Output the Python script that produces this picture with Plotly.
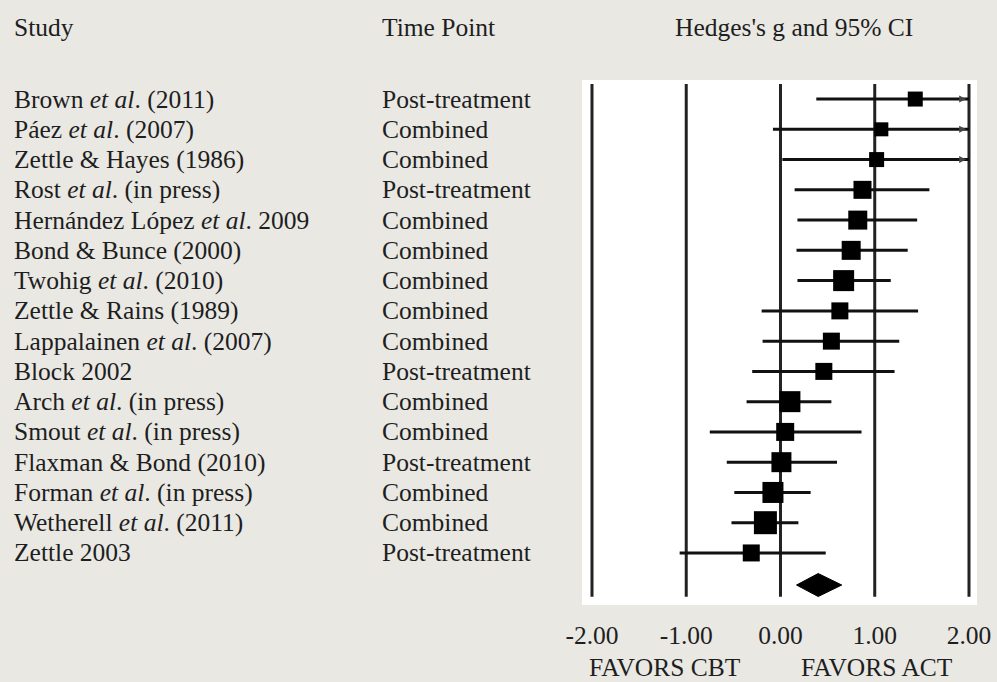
import plotly.graph_objects as go

# ---------------- data ----------------
studies = [
    "Brown <i>et al</i>. (2011)",
    "Páez <i>et al</i>. (2007)",
    "Zettle &amp; Hayes (1986)",
    "Rost <i>et al</i>. (in press)",
    "Hernández López <i>et al</i>. 2009",
    "Bond &amp; Bunce (2000)",
    "Twohig <i>et al</i>. (2010)",
    "Zettle &amp; Rains (1989)",
    "Lappalainen <i>et al</i>. (2007)",
    "Block 2002",
    "Arch <i>et al</i>. (in press)",
    "Smout <i>et al</i>. (in press)",
    "Flaxman &amp; Bond (2010)",
    "Forman <i>et al</i>. (in press)",
    "Wetherell <i>et al</i>. (2011)",
    "Zettle 2003",
]
time_points = [
    "Post-treatment", "Combined", "Combined", "Post-treatment", "Combined",
    "Combined", "Combined", "Combined", "Combined", "Post-treatment",
    "Combined", "Combined", "Post-treatment", "Combined", "Combined",
    "Post-treatment",
]
hedges_g = [1.43, 1.07, 1.02, 0.87, 0.82, 0.75, 0.67, 0.63, 0.54, 0.46,
            0.10, 0.05, 0.01, -0.08, -0.16, -0.31]
ci_lower = [0.38, -0.08, 0.02, 0.15, 0.18, 0.17, 0.18, -0.20, -0.19, -0.30,
            -0.36, -0.75, -0.57, -0.49, -0.52, -1.07]
ci_upper = [2.48, 2.22, 2.05, 1.58, 1.45, 1.35, 1.17, 1.46, 1.26, 1.21,
            0.54, 0.86, 0.60, 0.32, 0.19, 0.48]
weights = [15, 14, 15, 18, 19, 19, 21, 17, 17, 17, 21, 18, 20, 21, 23, 17]
summary_g = 0.40
summary_lower = 0.17
summary_upper = 0.65
tick_values = [-2, -1, 0, 1, 2]
tick_labels = ["-2.00", "-1.00", "0.00", "1.00", "2.00"]

# ---------------- layout geometry ----------------
W, H = 997, 682
L, R, T, B = 582, 20, 80, 77
plot_w = W - L - R
plot_h = H - T - B
x_min, x_max = -2.106, 2.085
y_top, y_bot = -0.63, 16.72
AXIS_MAX = 2.0

def px_x(px):
    return (px - L) / plot_w

def px_y(py):
    return (H - B - py) / plot_h

FONT = "Liberation Serif, Times New Roman, serif"
TXT = "#1e1e1e"
FS = 25.5

fig = go.Figure()

rows = list(range(len(studies)))

# CI lines
lx, ly = [], []
for i in rows:
    lx += [ci_lower[i], min(ci_upper[i], AXIS_MAX), None]
    ly += [i, i, None]
fig.add_trace(go.Scatter(x=lx, y=ly, mode="lines",
                         line=dict(color="#111111", width=3),
                         hoverinfo="skip", showlegend=False))

# arrows for truncated CIs
ax_, ay_ = [], []
for i in rows:
    if ci_upper[i] > AXIS_MAX:
        ax_.append(AXIS_MAX - 0.03)
        ay_.append(i)
fig.add_trace(go.Scatter(x=ax_, y=ay_, mode="markers",
                         marker=dict(symbol="arrow-right", size=7, color="#444444",
                                     opacity=1),
                         hoverinfo="skip", showlegend=False))

# point estimates
fig.add_trace(go.Scatter(x=hedges_g, y=rows, mode="markers",
                         marker=dict(symbol="square", size=weights, color="#000000",
                                     opacity=1, line=dict(width=0)),
                         showlegend=False))

# summary diamond
yd = len(studies) + 0.06
hh = 0.38
fig.add_trace(go.Scatter(
    x=[summary_lower, summary_g, summary_upper, summary_g, summary_lower],
    y=[yd, yd - hh, yd, yd + hh, yd],
    mode="lines", fill="toself", fillcolor="#000000",
    line=dict(color="#000000", width=1), hoverinfo="skip", showlegend=False))

# vertical reference lines
shapes = []
for v in tick_values:
    shapes.append(dict(type="line", xref="x", yref="y", x0=v, x1=v,
                       y0=-0.5, y1=16.45, line=dict(color="#222222", width=3),
                       layer="below"))

annotations = []
def ann(text, x, y, xref, yref, xanchor):
    annotations.append(dict(text=text, x=x, y=y, xref=xref, yref=yref,
                            xanchor=xanchor, yanchor="middle", showarrow=False,
                            borderpad=0, borderwidth=0,
                            font=dict(family=FONT, size=FS, color=TXT)))

# headers
ann("Study", px_x(14), px_y(27), "paper", "paper", "left")
ann("Time Point", px_x(382), px_y(27), "paper", "paper", "left")
ann("Hedges's g and 95% CI", px_x(794), px_y(27), "paper", "paper", "center")
for i in rows:
    ann(studies[i], px_x(14), i, "paper", "y", "left")
    ann(time_points[i], px_x(382), i, "paper", "y", "left")
ann("FAVORS CBT", -1.23, px_y(667), "x", "paper", "center")
ann("FAVORS ACT", 1.02, px_y(667), "x", "paper", "center")

fig.update_layout(
    width=W, height=H, autosize=False,
    margin=dict(l=L, r=R, t=T, b=B, pad=0, autoexpand=False),
    paper_bgcolor="#e9e8e3",
    plot_bgcolor="#ffffff",
    shapes=shapes,
    annotations=annotations,
    showlegend=False,
    xaxis=dict(range=[x_min, x_max], tickvals=tick_values, ticktext=tick_labels,
               showgrid=False, zeroline=False, showline=False, ticks="",
               ticklabelstandoff=12, automargin=False,
               tickfont=dict(family=FONT, size=FS, color=TXT), fixedrange=True),
    yaxis=dict(range=[y_bot, y_top], showgrid=False, zeroline=False, automargin=False,
               showline=False, showticklabels=False, ticks="", fixedrange=True),
)

post = (
    "document.documentElement.style.margin='0';"
    "document.documentElement.style.overflow='hidden';"
    "document.body.style.margin='0';"
    "document.body.style.overflow='hidden';"
    "document.body.style.background='#e9e8e3';"
)
fig.write_html("out.html",
               config={"displayModeBar": False, "responsive": False},
               post_script=post)
